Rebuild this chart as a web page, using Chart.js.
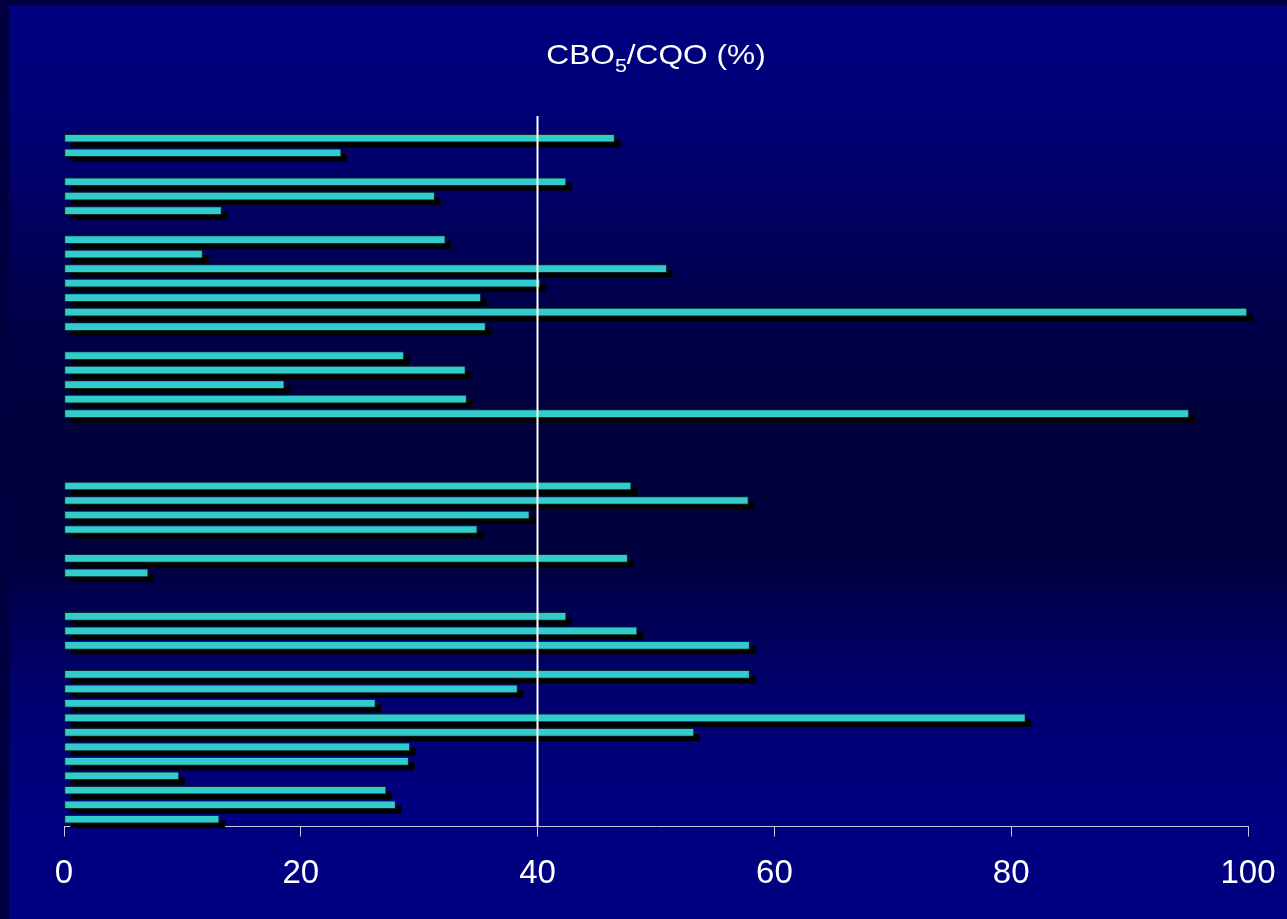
<!DOCTYPE html>
<html>
<head>
<meta charset="utf-8">
<script src="https://cdn.jsdelivr.net/npm/chart.js@4.4.1/dist/chart.umd.min.js"></script>
<style>
  html, body { margin: 0; padding: 0; background: #000080; overflow: hidden; }
  #wrap { position: relative; width: 1287px; height: 919px; }
  canvas { display: block; }
</style>
</head>
<body>
<div id="wrap"><canvas id="chart" width="1287" height="919"></canvas></div>
<script>
// One slot per row, top to bottom; empty strings / nulls leave the gaps between groups.
const categories = [
  '', '', '', '', '', '', '', '', '', '', '', '',
  '', '', '', '', '', '', '', '', '', '', '', '',
  '', '', '', '', '', '', '', '', '', '', '', '',
  '', '', '', '', '', '', '', '', '', '', '', ''
];

// CBO5/CQO ratio (%) for each row
const ratioValues = [
  46.5, 23.4, null,
  42.4, 31.3, 13.3, null,
  32.2, 11.7, 50.9, 40.2, 35.2, 99.9, 35.6, null,
  28.7, 33.9, 18.6, 34.0, 95.0, null, null, null, null,
  47.9, 57.8, 39.3, 34.9, null,
  47.6, 7.1, null, null,
  42.4, 48.4, 57.9, null,
  57.9, 38.3, 26.3, 81.2, 53.2, 29.2, 29.1, 9.7, 27.2, 28.0, 13.1
];

const xTicks = [0, 20, 40, 60, 80, 100];
const referenceValue = 40;
const titleParts = ['CBO', '5', '/CQO (%)'];

const FONT = '"Liberation Sans", Arial, sans-serif';

// Wanted plot rectangle on the 1287x919 page
const plotBox = { left: 64, right: 1248, top: 131, bottom: 826.5 };

// Slide background: vertical navy gradient with a darker frame on the top and left edges
const backgroundPlugin = {
  id: 'slideBackground',
  beforeDraw(chart) {
    const { ctx, width, height } = chart;
    ctx.save();
    const g = ctx.createLinearGradient(0, 0, 0, height);
    g.addColorStop(0.00, '#000080');
    g.addColorStop(0.12, '#000078');
    g.addColorStop(0.33, '#00004c');
    g.addColorStop(0.48, '#00003a');
    g.addColorStop(0.60, '#00003e');
    g.addColorStop(0.76, '#000070');
    g.addColorStop(0.88, '#000080');
    g.addColorStop(1.00, '#000080');
    ctx.fillStyle = g;
    ctx.fillRect(0, 0, width, height);
    ctx.fillStyle = '#000040';
    ctx.fillRect(0, 0, width, 5);
    ctx.fillRect(0, 0, 9, height);
    ctx.restore();
  }
};

// Hard black drop shadow under every bar, taken from the bar elements' own geometry
const barShadowPlugin = {
  id: 'barShadow',
  beforeDatasetsDraw(chart) {
    const ctx = chart.ctx;
    const dx = 6, dy = 5;
    ctx.save();
    ctx.fillStyle = '#000000';
    chart.getSortedVisibleDatasetMetas().forEach(meta => {
      meta.data.forEach((bar, i) => {
        if (meta._parsed[i] == null || isNaN(bar.x) || isNaN(bar.y)) return;
        const { x, y, base, height } = bar.getProps(['x', 'y', 'base', 'height'], true);
        const left = Math.min(x, base), right = Math.max(x, base);
        ctx.fillRect(left + dx, y - height / 2 + dy, right - left, height);
      });
    });
    ctx.restore();
  }
};

// White threshold line at the reference value
const referenceLinePlugin = {
  id: 'referenceLine',
  afterDatasetsDraw(chart) {
    const { ctx, chartArea, scales } = chart;
    const x = Math.round(scales.x.getPixelForValue(referenceValue)) - 0.5;
    ctx.save();
    ctx.strokeStyle = '#ffffff';
    ctx.lineWidth = 2;
    ctx.beginPath();
    ctx.moveTo(x, chartArea.top - 15);
    ctx.lineTo(x, chartArea.bottom);
    ctx.stroke();
    ctx.restore();
  }
};

// Title with a subscript digit
const titlePlugin = {
  id: 'subscriptTitle',
  afterDraw(chart) {
    const { ctx, chartArea } = chart;
    const mainFont = '28px ' + FONT;
    const subFont = '19px ' + FONT;
    const stretch = 1.13;
    ctx.save();
    ctx.fillStyle = '#ffffff';
    ctx.textBaseline = 'alphabetic';
    ctx.textAlign = 'left';
    ctx.font = mainFont;
    const w0 = ctx.measureText(titleParts[0]).width;
    const w2 = ctx.measureText(titleParts[2]).width;
    ctx.font = subFont;
    const w1 = ctx.measureText(titleParts[1]).width;
    const total = (w0 + w1 + w2) * stretch;
    const cx = (chartArea.left + chartArea.right) / 2;
    const baseY = 64;
    ctx.translate(cx - total / 2, 0);
    ctx.scale(stretch, 1);
    ctx.font = mainFont;
    ctx.fillText(titleParts[0], 0, baseY);
    ctx.font = subFont;
    ctx.fillText(titleParts[1], w0, baseY + 8);
    ctx.font = mainFont;
    ctx.fillText(titleParts[2], w0 + w1, baseY);
    ctx.restore();
  }
};

const chart = new Chart(document.getElementById('chart'), {
  type: 'bar',
  data: {
    labels: categories,
    datasets: [{
      data: ratioValues,
      backgroundColor: '#33cccc',
      borderColor: '#082a30',
      borderWidth: 1,
      borderSkipped: false,
      barThickness: 8
    }]
  },
  options: {
    indexAxis: 'y',
    responsive: false,
    animation: false,
    devicePixelRatio: 1,
    layout: { padding: { top: 131, left: 64, right: 39, bottom: 8 } },
    plugins: {
      legend: { display: false },
      title: { display: false },
      tooltip: { enabled: false }
    },
    scales: {
      y: {
        display: false,
        grid: { display: false }
      },
      x: {
        min: 0,
        max: 100,
        afterBuildTicks(scale) {
          scale.ticks = xTicks.map(v => ({ value: v }));
        },
        border: { display: true, color: '#c8c8dc', width: 1 },
        grid: {
          drawOnChartArea: false,
          drawTicks: true,
          tickLength: 10,
          color: '#c8c8dc',
          lineWidth: 1
        },
        ticks: {
          color: '#ffffff',
          padding: 0,
          maxRotation: 0,
          // a tall line box drops the labels well below the tick marks
          font: { family: FONT, size: 33, lineHeight: '74px' }
        }
      }
    }
  },
  plugins: [backgroundPlugin, barShadowPlugin, referenceLinePlugin, titlePlugin]
});

// Nudge the layout padding so the plot rectangle lands where it should
for (let pass = 0; pass < 3; pass++) {
  const a = chart.chartArea;
  const p = chart.config.options.layout.padding;
  p.top += plotBox.top - a.top;
  p.left += plotBox.left - a.left;
  p.right += a.right - plotBox.right;
  p.bottom += a.bottom - plotBox.bottom;
  chart.update();
}
</script>
</body>
</html>
